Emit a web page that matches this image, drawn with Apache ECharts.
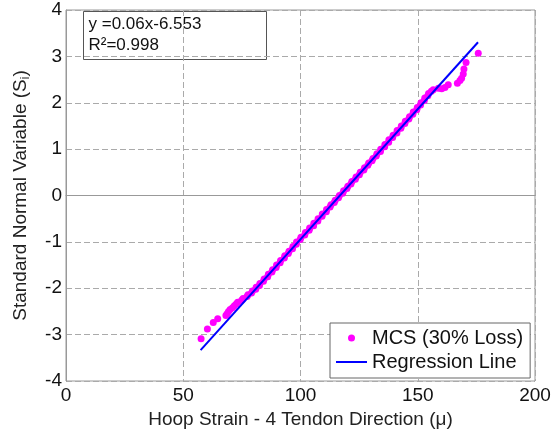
<!DOCTYPE html>
<html>
<head>
<meta charset="utf-8">
<script src="https://cdn.jsdelivr.net/npm/echarts@6/dist/echarts.min.js"></script>
<style>
  html, body { margin: 0; padding: 0; background: #fff; }
  #chart { width: 554px; height: 436px; }
</style>
</head>
<body>
<div id="chart"></div>
<script>
// Monte Carlo samples: hoop strain (micro-strain) vs. standard normal variable
const mcsStrain = [
  57.6, 60.3, 62.8, 64.7, 68.2, 68.7, 69.3, 70.0, 71.0, 71.8,
  72.6, 73.2, 74.9, 75.5, 77.2, 77.6, 79.1, 79.5, 80.9, 81.1,
  82.5, 82.7, 84.2, 84.5, 86.0, 86.3, 87.8, 88.1, 89.6, 89.8,
  91.3, 91.5, 93.1, 93.3, 94.8, 95.1, 96.6, 96.8, 98.2,
  98.3, 99.9, 100.2, 101.8, 102.1, 103.7, 103.9, 105.6, 105.7, 107.4,
  107.5, 109.2, 109.3, 111.0, 111.1, 112.6, 113.0, 114.4, 114.8, 116.2,
  116.6, 118.0, 118.4, 119.8, 120.2, 121.5, 121.9, 123.4, 123.7, 125.1,
  125.5, 127.0, 127.3, 128.7, 129.1, 130.5, 130.9, 132.3, 132.6, 134.1,
  134.2, 135.9, 136.0, 137.6, 137.7, 139.3, 139.5, 141.1, 141.2, 142.8,
  143.0, 144.5, 144.7, 146.2, 146.5, 147.9, 148.1, 149.6, 149.8, 151.2,
  151.4, 152.8, 153.0, 154.3, 154.6,
  155.8, 156.6, 158.8, 160.2, 161.6, 163.0, 166.9, 168.0, 168.7, 169.4,
  169.7, 170.6, 175.8
];
const mcsSnv = [
  -3.09, -2.88, -2.74, -2.66, -2.59, -2.55, -2.50, -2.46, -2.42, -2.38,
  -2.34, -2.30, -2.26, -2.22, -2.18, -2.14, -2.10, -2.06, -2.02, -1.98,
  -1.94, -1.90, -1.85, -1.80, -1.75, -1.70, -1.65, -1.60, -1.55, -1.50,
  -1.45, -1.40, -1.35, -1.30, -1.25, -1.20, -1.15, -1.10, -1.05,
  -1.00, -0.95, -0.90, -0.85, -0.80, -0.75, -0.70, -0.65, -0.60, -0.55,
  -0.50, -0.45, -0.40, -0.35, -0.30, -0.25, -0.20, -0.15, -0.10, -0.05,
  0.00, 0.05, 0.10, 0.15, 0.20, 0.25, 0.30, 0.35, 0.40, 0.45,
  0.50, 0.55, 0.60, 0.65, 0.70, 0.75, 0.80, 0.85, 0.90, 0.95,
  1.00, 1.05, 1.10, 1.15, 1.20, 1.25, 1.30, 1.35, 1.40, 1.45,
  1.50, 1.55, 1.60, 1.65, 1.70, 1.75, 1.80, 1.85, 1.90, 1.95,
  2.00, 2.05, 2.10, 2.15, 2.20,
  2.25, 2.28, 2.31, 2.30, 2.33, 2.39, 2.42, 2.48, 2.53, 2.62,
  2.73, 2.87, 3.07
];

// Least-squares fit of the samples
const fitSlope = 0.0561;
const fitIntercept = -6.553;
const fitRSquared = 0.998;
const fitStrainRange = [57.4, 175.7];

// Axis ranges
const xRange = [0, 200], xStep = 50;
const yRange = [-4, 4], yStep = 1;

const seriesNames = ['MCS (30% Loss)', 'Regression Line'];

const mcsData = mcsStrain.map((x, i) => [x, mcsSnv[i]]);
const fitData = fitStrainRange.map(x => [x, fitSlope * x + fitIntercept]);

const FONT = '"Liberation Sans", Arial, Helvetica, sans-serif';
const fmtSigned = v => (v < 0 ? '-' : '+') + Math.abs(v).toFixed(3);
const eqText = 'y =' + fitSlope.toFixed(2) + 'x' + fmtSigned(fitIntercept);
const r2Text = 'R\u00b2=' + fitRSquared.toFixed(3);

const chart = echarts.init(document.getElementById('chart'), null, { renderer: 'canvas' });

const gridLine = { show: true, lineStyle: { color: '#aaaaaa', type: [6, 3], width: 1 } };
const axisLine = { show: true, lineStyle: { color: '#999999', width: 1 } };

chart.setOption({
  animation: false,
  backgroundColor: '#ffffff',
  grid: {
    left: 66, right: 19, top: 10, bottom: 55,
    show: true, borderColor: '#999999', borderWidth: 1, backgroundColor: 'transparent'
  },
  xAxis: {
    type: 'value',
    min: xRange[0], max: xRange[1], interval: xStep,
    name: 'Hoop Strain - 4 Tendon Direction (\u03bc)',
    nameLocation: 'middle',
    nameGap: 24,
    nameTextStyle: { fontFamily: FONT, fontSize: 19, color: '#222' },
    axisLine: axisLine,
    axisTick: { show: false },
    axisLabel: { fontFamily: FONT, fontSize: 19, color: '#111', margin: 5 },
    splitLine: gridLine
  },
  yAxis: {
    type: 'value',
    min: yRange[0], max: yRange[1], interval: yStep,
    name: 'Standard Normal Variable (S{sub|i})',
    nameLocation: 'middle',
    nameGap: 34,
    nameTextStyle: {
      fontFamily: FONT, fontSize: 19, color: '#222',
      rich: { sub: { fontFamily: FONT, fontSize: 12, color: '#222', verticalAlign: 'bottom', padding: [10, 0, 0, 0] } }
    },
    axisLine: axisLine,
    axisTick: { show: false },
    axisLabel: { fontFamily: FONT, fontSize: 19, color: '#111', margin: 4 },
    splitLine: gridLine
  },
  legend: {
    data: [
      { name: seriesNames[0], icon: 'circle' },
      { name: seriesNames[1], icon: 'path://M0,0L31,0L31,2L0,2Z' }
    ],
    orient: 'vertical',
    left: 330, top: 323,
    padding: [5, 7, 6, 6],
    itemGap: 4,
    itemWidth: 31,
    itemHeight: 7,
    backgroundColor: '#ffffff',
    borderColor: '#666666',
    borderWidth: 1,
    borderRadius: 0,
    textStyle: { fontFamily: FONT, fontSize: 20, color: '#111' }
  },
  series: [
    {
      name: seriesNames[0],
      type: 'scatter',
      data: mcsData,
      symbol: 'circle',
      symbolSize: 7,
      itemStyle: { color: '#ff00ff', opacity: 1 },
      z: 2
    },
    {
      name: seriesNames[1],
      type: 'line',
      data: fitData,
      symbol: 'none',
      lineStyle: { color: '#0000ff', width: 2 },
      itemStyle: { color: '#0000ff' },
      z: 3
    }
  ],
  graphic: [
    {
      type: 'group',
      left: 83, top: 11,
      children: [
        { type: 'rect', shape: { x: 0, y: 0, width: 183, height: 48 },
          style: { fill: '#ffffff', stroke: '#555555', lineWidth: 1 } },
        { type: 'text', x: 5, y: 13,
          style: { text: eqText, fontFamily: FONT, fontSize: 17, fill: '#111', verticalAlign: 'middle' } },
        { type: 'text', x: 5, y: 34,
          style: { text: r2Text, fontFamily: FONT, fontSize: 17, fill: '#111', verticalAlign: 'middle' } }
      ]
    }
  ]
});
</script>
</body>
</html>
